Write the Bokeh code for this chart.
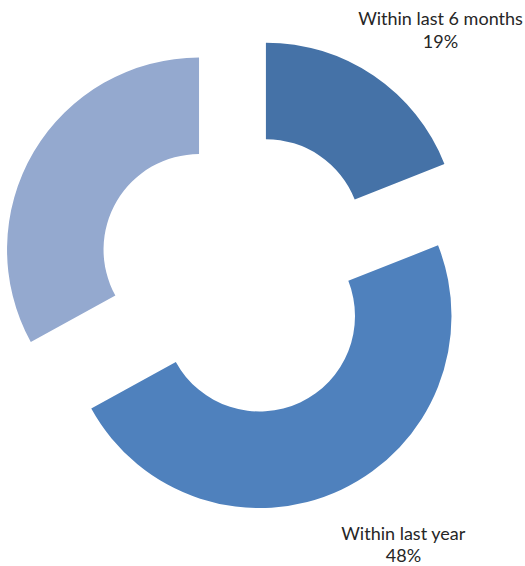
import math
from bokeh.plotting import figure
from bokeh.models import Range1d, ColumnDataSource
from bokeh.core.properties import value
from bokeh.embed import file_html
from bokeh.resources import INLINE

# ---- data ----
categories = ["Within last 6 months", "Within last year", ""]
percents = [19, 48, 33]
colors = ["#4572A7", "#4F81BD", "#94A9CF"]

# ---- layout (page pixel coordinates) ----
W, H = 525, 566
CX, CY = 239, 273          # donut centre
R_OUT, R_IN = 192, 95.5    # radii (px)
EXPLODE = 47               # explosion distance (px)

xs, ys, starts, ends = [], [], [], []
cum = 0.0
for pct in percents:
    t1 = cum / 100 * 360
    t2 = (cum + pct) / 100 * 360
    tm = math.radians((t1 + t2) / 2)
    xs.append(CX + EXPLODE * math.sin(tm))
    ys.append(-CY + EXPLODE * math.cos(tm))
    starts.append(math.radians(90 - t2))
    ends.append(math.radians(90 - t1))
    cum += pct

src = ColumnDataSource(dict(x=xs, y=ys, start=starts, end=ends, color=colors))

p = figure(width=W, height=H, output_backend="svg", toolbar_location=None,
           x_range=Range1d(0, W), y_range=Range1d(-H, 0),
           min_border=0)
p.axis.visible = False
p.grid.visible = False
p.outline_line_color = None
p.background_fill_color = "white"
p.border_fill_color = "white"

p.annular_wedge(x="x", y="y", inner_radius=R_IN, outer_radius=R_OUT,
                inner_radius_units="screen", outer_radius_units="screen",
                start_angle="start", end_angle="end", direction="anticlock",
                fill_color="color", line_color=None, source=src)

# labels (name line + percentage line)
label_x = [440, 403]
label_y1 = [17, 532]
label_y2 = [40, 554]
names = [categories[0], categories[1]]
pcts = [f"{percents[0]}%", f"{percents[1]}%"]

font = value("Lato")
p.text(x=label_x, y=[-v for v in label_y1], text=names, text_align="center",
       text_baseline="middle", text_font=font, text_font_size="18px",
       text_color="#262626")
p.text(x=label_x, y=[-v for v in label_y2], text=pcts, text_align="center",
       text_baseline="middle", text_font=font, text_font_size="18px",
       text_color="#262626")

open("out.html", "w").write(file_html(p, INLINE))
